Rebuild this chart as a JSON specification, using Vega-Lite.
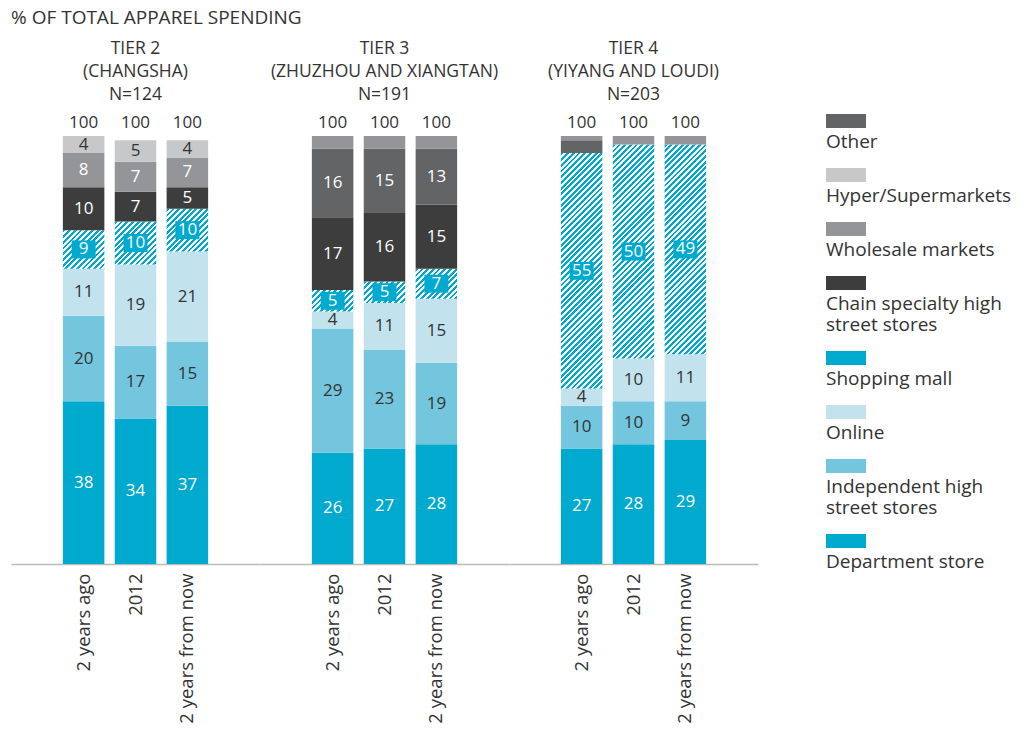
{
  "$schema": "https://vega.github.io/schema/vega-lite/v6.json",
  "padding": {"left": 11, "top": 8, "right": 0, "bottom": 0},
  "title": {"text": "% OF TOTAL APPAREL SPENDING", "anchor": "start", "fontSize": 19, "fontWeight": "normal", "font": "Open Sans", "color": "#333", "offset": 12},
  "data": {"values": [
    {"tier": "TIER 2", "period": "2 years ago", "seg": "Department store", "v": 38},
    {"tier": "TIER 2", "period": "2 years ago", "seg": "Independent high street stores", "v": 20},
    {"tier": "TIER 2", "period": "2 years ago", "seg": "Online", "v": 11},
    {"tier": "TIER 2", "period": "2 years ago", "seg": "Shopping mall", "v": 9},
    {"tier": "TIER 2", "period": "2 years ago", "seg": "Chain specialty high street stores", "v": 10},
    {"tier": "TIER 2", "period": "2 years ago", "seg": "Wholesale markets", "v": 8},
    {"tier": "TIER 2", "period": "2 years ago", "seg": "Hyper/Supermarkets", "v": 4},
    {"tier": "TIER 2", "period": "2012", "seg": "Department store", "v": 34},
    {"tier": "TIER 2", "period": "2012", "seg": "Independent high street stores", "v": 17},
    {"tier": "TIER 2", "period": "2012", "seg": "Online", "v": 19},
    {"tier": "TIER 2", "period": "2012", "seg": "Shopping mall", "v": 10},
    {"tier": "TIER 2", "period": "2012", "seg": "Chain specialty high street stores", "v": 7},
    {"tier": "TIER 2", "period": "2012", "seg": "Wholesale markets", "v": 7},
    {"tier": "TIER 2", "period": "2012", "seg": "Hyper/Supermarkets", "v": 5},
    {"tier": "TIER 2", "period": "2 years from now", "seg": "Department store", "v": 37},
    {"tier": "TIER 2", "period": "2 years from now", "seg": "Independent high street stores", "v": 15},
    {"tier": "TIER 2", "period": "2 years from now", "seg": "Online", "v": 21},
    {"tier": "TIER 2", "period": "2 years from now", "seg": "Shopping mall", "v": 10},
    {"tier": "TIER 2", "period": "2 years from now", "seg": "Chain specialty high street stores", "v": 5},
    {"tier": "TIER 2", "period": "2 years from now", "seg": "Wholesale markets", "v": 7},
    {"tier": "TIER 2", "period": "2 years from now", "seg": "Hyper/Supermarkets", "v": 4},
    {"tier": "TIER 3", "period": "2 years ago", "seg": "Department store", "v": 26},
    {"tier": "TIER 3", "period": "2 years ago", "seg": "Independent high street stores", "v": 29},
    {"tier": "TIER 3", "period": "2 years ago", "seg": "Online", "v": 4},
    {"tier": "TIER 3", "period": "2 years ago", "seg": "Shopping mall", "v": 5},
    {"tier": "TIER 3", "period": "2 years ago", "seg": "Chain specialty high street stores", "v": 17},
    {"tier": "TIER 3", "period": "2 years ago", "seg": "Other", "v": 16},
    {"tier": "TIER 3", "period": "2 years ago", "seg": "Wholesale markets", "v": 3},
    {"tier": "TIER 3", "period": "2012", "seg": "Department store", "v": 27},
    {"tier": "TIER 3", "period": "2012", "seg": "Independent high street stores", "v": 23},
    {"tier": "TIER 3", "period": "2012", "seg": "Online", "v": 11},
    {"tier": "TIER 3", "period": "2012", "seg": "Shopping mall", "v": 5},
    {"tier": "TIER 3", "period": "2012", "seg": "Chain specialty high street stores", "v": 16},
    {"tier": "TIER 3", "period": "2012", "seg": "Other", "v": 15},
    {"tier": "TIER 3", "period": "2012", "seg": "Wholesale markets", "v": 3},
    {"tier": "TIER 3", "period": "2 years from now", "seg": "Department store", "v": 28},
    {"tier": "TIER 3", "period": "2 years from now", "seg": "Independent high street stores", "v": 19},
    {"tier": "TIER 3", "period": "2 years from now", "seg": "Online", "v": 15},
    {"tier": "TIER 3", "period": "2 years from now", "seg": "Shopping mall", "v": 7},
    {"tier": "TIER 3", "period": "2 years from now", "seg": "Chain specialty high street stores", "v": 15},
    {"tier": "TIER 3", "period": "2 years from now", "seg": "Other", "v": 13},
    {"tier": "TIER 3", "period": "2 years from now", "seg": "Wholesale markets", "v": 3},
    {"tier": "TIER 4", "period": "2 years ago", "seg": "Department store", "v": 27},
    {"tier": "TIER 4", "period": "2 years ago", "seg": "Independent high street stores", "v": 10},
    {"tier": "TIER 4", "period": "2 years ago", "seg": "Online", "v": 4},
    {"tier": "TIER 4", "period": "2 years ago", "seg": "Shopping mall", "v": 55},
    {"tier": "TIER 4", "period": "2 years ago", "seg": "Other", "v": 3},
    {"tier": "TIER 4", "period": "2 years ago", "seg": "Wholesale markets", "v": 1},
    {"tier": "TIER 4", "period": "2012", "seg": "Department store", "v": 28},
    {"tier": "TIER 4", "period": "2012", "seg": "Independent high street stores", "v": 10},
    {"tier": "TIER 4", "period": "2012", "seg": "Online", "v": 10},
    {"tier": "TIER 4", "period": "2012", "seg": "Shopping mall", "v": 50},
    {"tier": "TIER 4", "period": "2012", "seg": "Wholesale markets", "v": 2},
    {"tier": "TIER 4", "period": "2 years from now", "seg": "Department store", "v": 29},
    {"tier": "TIER 4", "period": "2 years from now", "seg": "Independent high street stores", "v": 9},
    {"tier": "TIER 4", "period": "2 years from now", "seg": "Online", "v": 11},
    {"tier": "TIER 4", "period": "2 years from now", "seg": "Shopping mall", "v": 49},
    {"tier": "TIER 4", "period": "2 years from now", "seg": "Wholesale markets", "v": 2}
  ]},
  "transform": [{"stack": "v", "groupby": ["tier", "period"], "as": ["y0", "y1"]}],
  "facet": {
    "column": {
      "field": "tier", "type": "nominal", "sort": ["TIER 2", "TIER 3", "TIER 4"],
      "header": {
        "title": null,
        "labelExpr": "datum.value == 'TIER 2' ? ['TIER 2', '(CHANGSHA)', 'N=124'] : datum.value == 'TIER 3' ? ['TIER 3', '(ZHUZHOU AND XIANGTAN)', 'N=191'] : ['TIER 4', '(YIYANG AND LOUDI)', 'N=203']",
        "labelFont": "Open Sans", "labelFontSize": 17.5, "labelColor": "#333",
        "labelBaseline": "bottom", "labelLineHeight": 23, "labelPadding": 15
      }
    }
  },
  "spacing": 0,
  "bounds": "flush",
  "spec": {
    "width": 249,
    "height": 428,
    "encoding": {
      "x": {
        "field": "period", "type": "nominal", "sort": ["2 years ago", "2012", "2 years from now"],
        "scale": {"paddingInner": 0.2, "paddingOuter": 1},
        "axis": {"title": null, "labelAngle": -90, "labelFont": "Open Sans", "labelFontSize": 18.5, "labelColor": "#333", "ticks": false, "domainColor": "#bbbbbb", "domainWidth": 1.5, "labelPadding": 9, "labelLimit": 300}
      },
      "order": {"field": "y0", "type": "quantitative", "sort": "ascending"}
    },
    "layer": [
      {
        "mark": {"type": "bar"},
        "encoding": {
          "y": {"field": "v", "type": "quantitative", "stack": "zero", "scale": {"domain": [0, 100]}, "axis": null},
          "color": {
            "condition": {"test": "datum.seg === 'Shopping mall'", "value": {"expr": "{gradient: 'linear', x1: 0, y1: 0, x2: 41.5*285/(1722.25 + pow(datum.v*4.28, 2)), y2: datum.v*4.28*285/(1722.25 + pow(datum.v*4.28, 2)), stops: [{offset:0,color:'#00a9ce'},{offset:0.01,color:'#00a9ce'},{offset:0.01,color:'#fff'},{offset:0.02,color:'#fff'},{offset:0.02,color:'#00a9ce'},{offset:0.03,color:'#00a9ce'},{offset:0.03,color:'#fff'},{offset:0.04,color:'#fff'},{offset:0.04,color:'#00a9ce'},{offset:0.05,color:'#00a9ce'},{offset:0.05,color:'#fff'},{offset:0.06,color:'#fff'},{offset:0.06,color:'#00a9ce'},{offset:0.07,color:'#00a9ce'},{offset:0.07,color:'#fff'},{offset:0.08,color:'#fff'},{offset:0.08,color:'#00a9ce'},{offset:0.09,color:'#00a9ce'},{offset:0.09,color:'#fff'},{offset:0.1,color:'#fff'},{offset:0.1,color:'#00a9ce'},{offset:0.11,color:'#00a9ce'},{offset:0.11,color:'#fff'},{offset:0.12,color:'#fff'},{offset:0.12,color:'#00a9ce'},{offset:0.13,color:'#00a9ce'},{offset:0.13,color:'#fff'},{offset:0.14,color:'#fff'},{offset:0.14,color:'#00a9ce'},{offset:0.15,color:'#00a9ce'},{offset:0.15,color:'#fff'},{offset:0.16,color:'#fff'},{offset:0.16,color:'#00a9ce'},{offset:0.17,color:'#00a9ce'},{offset:0.17,color:'#fff'},{offset:0.18,color:'#fff'},{offset:0.18,color:'#00a9ce'},{offset:0.19,color:'#00a9ce'},{offset:0.19,color:'#fff'},{offset:0.2,color:'#fff'},{offset:0.2,color:'#00a9ce'},{offset:0.21,color:'#00a9ce'},{offset:0.21,color:'#fff'},{offset:0.22,color:'#fff'},{offset:0.22,color:'#00a9ce'},{offset:0.23,color:'#00a9ce'},{offset:0.23,color:'#fff'},{offset:0.24,color:'#fff'},{offset:0.24,color:'#00a9ce'},{offset:0.25,color:'#00a9ce'},{offset:0.25,color:'#fff'},{offset:0.26,color:'#fff'},{offset:0.26,color:'#00a9ce'},{offset:0.27,color:'#00a9ce'},{offset:0.27,color:'#fff'},{offset:0.28,color:'#fff'},{offset:0.28,color:'#00a9ce'},{offset:0.29,color:'#00a9ce'},{offset:0.29,color:'#fff'},{offset:0.3,color:'#fff'},{offset:0.3,color:'#00a9ce'},{offset:0.31,color:'#00a9ce'},{offset:0.31,color:'#fff'},{offset:0.32,color:'#fff'},{offset:0.32,color:'#00a9ce'},{offset:0.33,color:'#00a9ce'},{offset:0.33,color:'#fff'},{offset:0.34,color:'#fff'},{offset:0.34,color:'#00a9ce'},{offset:0.35,color:'#00a9ce'},{offset:0.35,color:'#fff'},{offset:0.36,color:'#fff'},{offset:0.36,color:'#00a9ce'},{offset:0.37,color:'#00a9ce'},{offset:0.37,color:'#fff'},{offset:0.38,color:'#fff'},{offset:0.38,color:'#00a9ce'},{offset:0.39,color:'#00a9ce'},{offset:0.39,color:'#fff'},{offset:0.4,color:'#fff'},{offset:0.4,color:'#00a9ce'},{offset:0.41,color:'#00a9ce'},{offset:0.41,color:'#fff'},{offset:0.42,color:'#fff'},{offset:0.42,color:'#00a9ce'},{offset:0.43,color:'#00a9ce'},{offset:0.43,color:'#fff'},{offset:0.44,color:'#fff'},{offset:0.44,color:'#00a9ce'},{offset:0.45,color:'#00a9ce'},{offset:0.45,color:'#fff'},{offset:0.46,color:'#fff'},{offset:0.46,color:'#00a9ce'},{offset:0.47,color:'#00a9ce'},{offset:0.47,color:'#fff'},{offset:0.48,color:'#fff'},{offset:0.48,color:'#00a9ce'},{offset:0.49,color:'#00a9ce'},{offset:0.49,color:'#fff'},{offset:0.5,color:'#fff'},{offset:0.5,color:'#00a9ce'},{offset:0.51,color:'#00a9ce'},{offset:0.51,color:'#fff'},{offset:0.52,color:'#fff'},{offset:0.52,color:'#00a9ce'},{offset:0.53,color:'#00a9ce'},{offset:0.53,color:'#fff'},{offset:0.54,color:'#fff'},{offset:0.54,color:'#00a9ce'},{offset:0.55,color:'#00a9ce'},{offset:0.55,color:'#fff'},{offset:0.56,color:'#fff'},{offset:0.56,color:'#00a9ce'},{offset:0.57,color:'#00a9ce'},{offset:0.57,color:'#fff'},{offset:0.58,color:'#fff'},{offset:0.58,color:'#00a9ce'},{offset:0.59,color:'#00a9ce'},{offset:0.59,color:'#fff'},{offset:0.6,color:'#fff'},{offset:0.6,color:'#00a9ce'},{offset:0.61,color:'#00a9ce'},{offset:0.61,color:'#fff'},{offset:0.62,color:'#fff'},{offset:0.62,color:'#00a9ce'},{offset:0.63,color:'#00a9ce'},{offset:0.63,color:'#fff'},{offset:0.64,color:'#fff'},{offset:0.64,color:'#00a9ce'},{offset:0.65,color:'#00a9ce'},{offset:0.65,color:'#fff'},{offset:0.66,color:'#fff'},{offset:0.66,color:'#00a9ce'},{offset:0.67,color:'#00a9ce'},{offset:0.67,color:'#fff'},{offset:0.68,color:'#fff'},{offset:0.68,color:'#00a9ce'},{offset:0.69,color:'#00a9ce'},{offset:0.69,color:'#fff'},{offset:0.7,color:'#fff'},{offset:0.7,color:'#00a9ce'},{offset:0.71,color:'#00a9ce'},{offset:0.71,color:'#fff'},{offset:0.72,color:'#fff'},{offset:0.72,color:'#00a9ce'},{offset:0.73,color:'#00a9ce'},{offset:0.73,color:'#fff'},{offset:0.74,color:'#fff'},{offset:0.74,color:'#00a9ce'},{offset:0.75,color:'#00a9ce'},{offset:0.75,color:'#fff'},{offset:0.76,color:'#fff'},{offset:0.76,color:'#00a9ce'},{offset:0.77,color:'#00a9ce'},{offset:0.77,color:'#fff'},{offset:0.78,color:'#fff'},{offset:0.78,color:'#00a9ce'},{offset:0.79,color:'#00a9ce'},{offset:0.79,color:'#fff'},{offset:0.8,color:'#fff'},{offset:0.8,color:'#00a9ce'},{offset:0.81,color:'#00a9ce'},{offset:0.81,color:'#fff'},{offset:0.82,color:'#fff'},{offset:0.82,color:'#00a9ce'},{offset:0.83,color:'#00a9ce'},{offset:0.83,color:'#fff'},{offset:0.84,color:'#fff'},{offset:0.84,color:'#00a9ce'},{offset:0.85,color:'#00a9ce'},{offset:0.85,color:'#fff'},{offset:0.86,color:'#fff'},{offset:0.86,color:'#00a9ce'},{offset:0.87,color:'#00a9ce'},{offset:0.87,color:'#fff'},{offset:0.88,color:'#fff'},{offset:0.88,color:'#00a9ce'},{offset:0.89,color:'#00a9ce'},{offset:0.89,color:'#fff'},{offset:0.9,color:'#fff'},{offset:0.9,color:'#00a9ce'},{offset:0.91,color:'#00a9ce'},{offset:0.91,color:'#fff'},{offset:0.92,color:'#fff'},{offset:0.92,color:'#00a9ce'},{offset:0.93,color:'#00a9ce'},{offset:0.93,color:'#fff'},{offset:0.94,color:'#fff'},{offset:0.94,color:'#00a9ce'},{offset:0.95,color:'#00a9ce'},{offset:0.95,color:'#fff'},{offset:0.96,color:'#fff'},{offset:0.96,color:'#00a9ce'},{offset:0.97,color:'#00a9ce'},{offset:0.97,color:'#fff'},{offset:0.98,color:'#fff'},{offset:0.98,color:'#00a9ce'},{offset:1,color:'#00a9ce'}]}"}},
            "field": "seg", "type": "nominal",
            "scale": {
              "domain": ["Department store", "Independent high street stores", "Online", "Shopping mall", "Chain specialty high street stores", "Other", "Wholesale markets", "Hyper/Supermarkets"],
              "range": ["#00a9ce", "#73c6de", "#c2e2ed", "#00a9ce", "#3d3d3d", "#636466", "#939598", "#c7c8ca"]
            },
            "legend": {
              "orient": "none", "legendX": 815, "legendY": -23, "title": null, "direction": "vertical",
              "values": ["Other", "Hyper/Supermarkets", "Wholesale markets", "Chain specialty high street stores", "Shopping mall", "Online", "Independent high street stores", "Department store"],
              "symbolType": "M-1,-0.95H1V-0.25H-1Z", "symbolSize": 1600, "symbolStrokeWidth": 0, "symbolOpacity": 1,
              "labelOffset": -40, "labelBaseline": "top", "labelFont": "Open Sans", "labelFontSize": 19, "labelColor": "#333", "labelLimit": 400, "rowPadding": 15,
              "labelExpr": "datum.label == 'Chain specialty high street stores' ? ['Chain specialty high', 'street stores'] : datum.label == 'Independent high street stores' ? ['Independent high', 'street stores'] : datum.label"
            }
          }
        }
      },
      {
        "mark": {"type": "point", "shape": "M-1,-0.75H1V0.75H-1Z", "size": 576, "filled": true, "strokeWidth": 0},
        "encoding": {
          "y": {"field": "v", "type": "quantitative", "stack": "zero", "bandPosition": 0.5},
          "detail": {"field": "seg", "type": "nominal"},
          "fill": {"value": "#00a9ce"},
          "opacity": {"condition": {"test": "datum.seg === 'Shopping mall'", "value": 1}, "value": 0}
        }
      },
      {
        "mark": {"type": "text", "font": "Open Sans", "fontSize": 17},
        "encoding": {
          "y": {"field": "v", "type": "quantitative", "stack": "zero", "bandPosition": 0.5},
          "detail": {"field": "seg", "type": "nominal"},
          "fill": {"condition": {"test": "datum.seg === 'Independent high street stores' || datum.seg === 'Online' || datum.seg === 'Hyper/Supermarkets'", "value": "#333333"}, "value": "#ffffff"},
          "text": {"condition": {"test": "datum.v >= 4", "field": "v", "type": "quantitative"}, "value": ""}
        }
      },
      {
        "transform": [{"filter": "datum.seg === 'Department store'"}],
        "mark": {"type": "text", "font": "Open Sans", "fontSize": 17, "color": "#333", "baseline": "alphabetic", "dy": -8},
        "encoding": {"y": {"datum": 100}, "text": {"value": "100"}}
      }
    ]
  },
  "config": {
    "view": {"stroke": null},
    "font": "Open Sans"
  }
}
